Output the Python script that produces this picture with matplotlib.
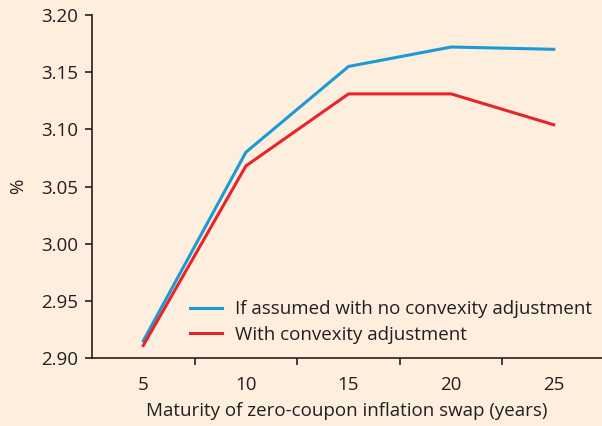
import matplotlib
matplotlib.use("Agg")
import matplotlib.pyplot as plt
import numpy as np

categories = ["5", "10", "15", "20", "25"]
no_adj = [2.915, 3.080, 3.155, 3.172, 3.170]
with_adj = [2.911, 3.068, 3.131, 3.131, 3.104]
yticks = [2.90, 2.95, 3.00, 3.05, 3.10, 3.15, 3.20]

plt.rcParams['font.family'] = ['Open Sans', 'DejaVu Sans']
bg = '#fdeedd'
fs = 13.5
fig = plt.figure(figsize=(6.02, 4.26), dpi=100, facecolor=bg)
ax = fig.add_axes([92/602, 1-358/426, 1-92/602, (358-15)/426], facecolor=bg)

x = np.arange(len(categories))
ax.plot(x, no_adj, color='#1d9ad6', lw=2.2, label='If assumed with no convexity adjustment')
ax.plot(x, with_adj, color='#e8242b', lw=2.2, label='With convexity adjustment')

ax.set_xlim(-0.5, 4.47)
ax.set_ylim(2.90, 3.20)
ax.set_yticks(yticks)
ax.set_yticklabels([f"{v:.2f}" for v in yticks])
ax.set_xticks(x)
ax.set_xticklabels(categories)
ax.set_xticks(np.arange(0.5, 4.0, 1.0), minor=True)
ax.tick_params(axis='x', which='major', length=0, pad=13, labelsize=fs, colors='#231f20')
ax.tick_params(axis='x', which='minor', length=5, width=1.2, direction='out', color='#231f20')
ax.tick_params(axis='y', length=5, width=1.2, pad=5, labelsize=fs, colors='#231f20')
for s in ['top', 'right']:
    ax.spines[s].set_visible(False)
for s in ['left', 'bottom']:
    ax.spines[s].set_color('#231f20')
    ax.spines[s].set_linewidth(1.2)

ax.set_xlabel('Maturity of zero-coupon inflation swap (years)', fontsize=fs, color='#231f20', labelpad=6)
ax.set_ylabel('%', fontsize=fs, color='#231f20', labelpad=10)

leg = ax.legend(loc='lower left', bbox_to_anchor=(0.192, 0.042), frameon=False, fontsize=fs,
                borderpad=0, borderaxespad=0,
                handlelength=1.7, handletextpad=0.7, labelspacing=0.39)
for t in leg.get_texts():
    t.set_color('#231f20')

fig.savefig('out.png', dpi=100, facecolor=bg)
